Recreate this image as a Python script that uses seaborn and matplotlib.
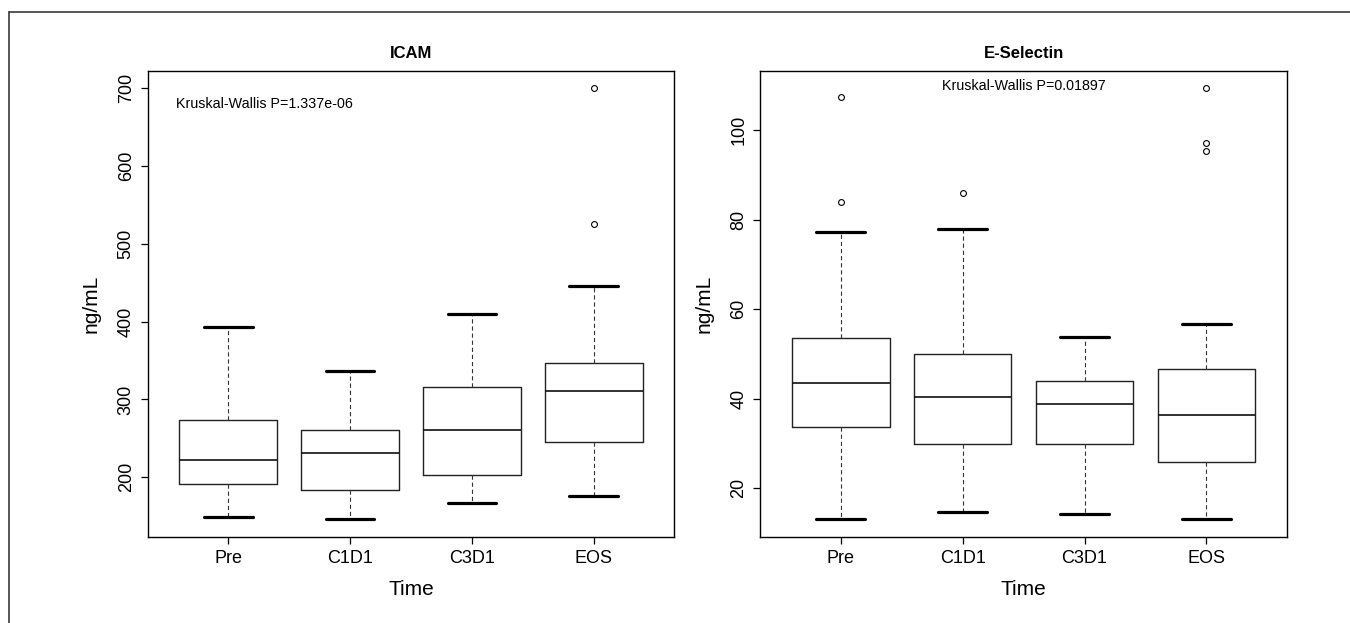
import numpy as np
import pandas as pd
import matplotlib
matplotlib.use("Agg")
import matplotlib.pyplot as plt
from matplotlib.lines import Line2D
import seaborn as sns

# ---------------- data ----------------
times = ["Pre", "C1D1", "C3D1", "EOS"]

icam_lo = [148.9, 146.0, 166.9, 175.9]
icam_q1 = [191.4, 184.1, 202.6, 245.9]
icam_med = [222.8, 230.9, 260.9, 310.3]
icam_q3 = [273.4, 260.9, 315.4, 347.1]
icam_hi = [393.4, 336.8, 409.8, 446.2]
icam_out = [[], [], [], [525.2, 700.0]]

esel_lo = [13.1, 14.8, 14.3, 13.1]
esel_q1 = [33.7, 29.9, 29.9, 25.9]
esel_med = [43.5, 40.4, 38.8, 36.3]
esel_q3 = [53.5, 50.0, 44.0, 46.6]
esel_hi = [77.3, 77.9, 53.8, 56.7]
esel_out = [[83.9, 107.4], [86.1], [], [95.4, 97.1, 109.4]]

icam_p = "Kruskal-Wallis P=1.337e-06"
esel_p = "Kruskal-Wallis P=0.01897"
icam_ticks = [200, 300, 400, 500, 600, 700]
esel_ticks = [20, 40, 60, 80, 100]


def long_frame(lo, q1, med, q3, hi, out):
    """Observations whose quartiles / whisker ends equal the read summary values."""
    rows = []
    for t, a, b, c, d, e, o in zip(times, lo, q1, med, q3, hi, out):
        vals = [a] + [b] * 10 + [c] * 10 + [d] * 10 + [e] + list(o)
        rows += [(t, v) for v in vals]
    return pd.DataFrame(rows, columns=["Time", "value"])


icam_df = long_frame(icam_lo, icam_q1, icam_med, icam_q3, icam_hi, icam_out)
esel_df = long_frame(esel_lo, esel_q1, esel_med, esel_q3, esel_hi, esel_out)

# ---------------- style ----------------
sns.set_theme(style="ticks")
plt.rcParams["font.family"] = ["Liberation Sans", "DejaVu Sans"]
plt.rcParams["axes.linewidth"] = 1.0
plt.rcParams["axes.edgecolor"] = "black"
plt.rcParams["text.color"] = "black"
plt.rcParams["axes.labelcolor"] = "black"
plt.rcParams["axes.titlecolor"] = "black"
plt.rcParams["xtick.color"] = "black"
plt.rcParams["ytick.color"] = "black"

W, H = 1350, 623
fig = plt.figure(figsize=(W / 100, H / 100), dpi=100)
fig.patch.set_facecolor("white")

ax_w = 526.6 / W
ax_h = 465.5 / H
ax_b = (H - 536.5) / H
ax1 = fig.add_axes([147.7 / W, ax_b, ax_w, ax_h])
ax2 = fig.add_axes([760.3 / W, ax_b, ax_w, ax_h])

box_kw = dict(
    order=times, width=0.8, fill=False, color="black", linewidth=1.0,
    whis=1.5, fliersize=4.2,
    boxprops=dict(linewidth=1.0, color="#222222"),
    medianprops=dict(linewidth=1.2, color="#111111"),
    whiskerprops=dict(linewidth=0.8, linestyle=(0, (3.8, 2.6)), color="#333333"),
    capprops=dict(linewidth=2.3, color="black"),
    flierprops=dict(marker="o", markerfacecolor="none", markeredgecolor="black",
                    markeredgewidth=0.8),
)

panels = [
    (ax1, icam_df, "ICAM", icam_ticks, icam_p),
    (ax2, esel_df, "E-Selectin", esel_ticks, esel_p),
]

for ax, df, title, yt, ptxt in panels:
    sns.boxplot(data=df, x="Time", y="value", ax=ax, **box_kw)
    vmin, vmax = df["value"].min(), df["value"].max()
    pad = 0.04 * (vmax - vmin)
    ax.set_ylim(vmin - pad, vmax + pad)
    ax.set_xlim(-0.66, 3.66)
    ax.set_yticks(yt)
    ax.set_yticklabels([str(v) for v in yt], rotation=90, va="center")
    ax.tick_params(axis="both", direction="out", length=5.3, width=0.9,
                   pad=4.5, labelsize=13, colors="black")
    ax.tick_params(axis="y", pad=4.0)
    for s in ax.spines.values():
        s.set_visible(True)
        s.set_linewidth(1.0)
        s.set_color("black")
    ax.set_title(title, fontsize=12, fontweight="bold", pad=9.4, color="black")
    ax.set_xlabel("Time", fontsize=15, color="black")
    ax.set_ylabel("ng/mL", fontsize=15, color="black")
    ax.xaxis.set_label_coords(0.5, -0.094)
    ax.yaxis.set_label_coords(-0.0887, 0.5)
    ax.grid(False)

ax1.text(0.0543, 0.929, icam_p, transform=ax1.transAxes, fontsize=10.3,
         ha="left", va="center", color="black")
ax2.text(0.5, 0.9678, esel_p, transform=ax2.transAxes, fontsize=10.3,
         ha="center", va="center", color="black")

# outer frame (top and left edges, as in the reference)
fig.add_artist(Line2D([8.7 / W, 8.7 / W], [0, 1 - 12 / H], transform=fig.transFigure,
                      color="#3a3a3a", linewidth=1.2))
fig.add_artist(Line2D([8.7 / W, 1], [1 - 12 / H, 1 - 12 / H], transform=fig.transFigure,
                      color="#3a3a3a", linewidth=1.2))

fig.savefig("out.png", dpi=100, facecolor="white")
